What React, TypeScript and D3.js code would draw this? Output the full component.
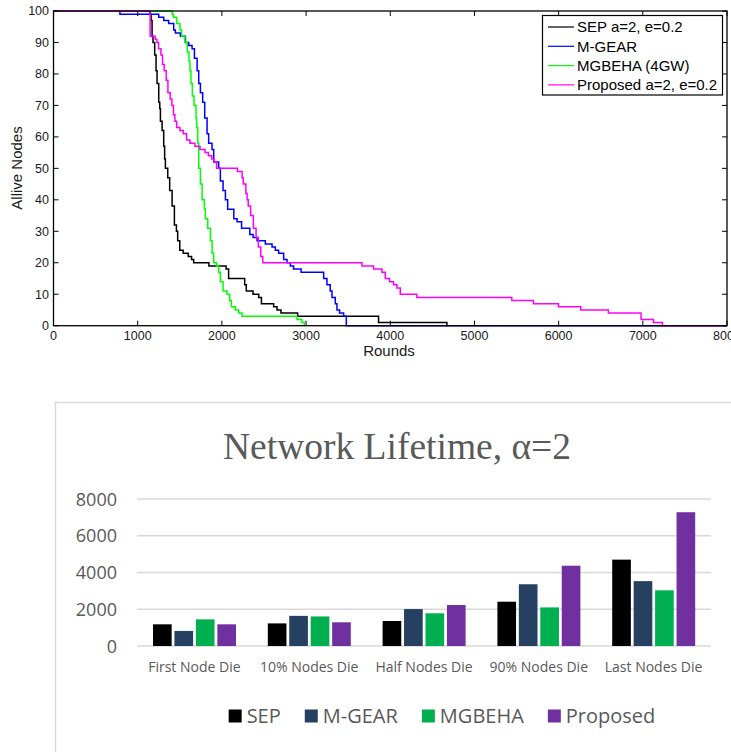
import React, { useEffect, useRef } from 'react';
import * as d3 from 'd3';

type Pt = [number, number];

// ---------- Top chart: Alive nodes vs rounds ----------
const curveNames = ['SEP a=2, e=0.2', 'M-GEAR', 'MGBEHA (4GW)', 'Proposed a=2, e=0.2'];
const curveColors = ['#000000', '#0000ff', '#00ff00', '#ff00ff'];

const sepCurve: Pt[] = [
  [0, 100], [1143, 99], [1159, 97], [1171, 92], [1182, 90], [1202, 86], [1218, 81], [1230, 77],
  [1250, 71], [1262, 69], [1270, 65], [1290, 62], [1309, 57], [1320, 53], [1329, 50], [1357, 47],
  [1380, 43], [1409, 38], [1436, 32], [1460, 30], [1475, 27], [1500, 24], [1540, 23], [1600, 22],
  [1640, 21], [1665, 20], [1846, 19], [2050, 18], [2080, 15], [2271, 13], [2290, 11], [2370, 10],
  [2437, 9], [2470, 7], [2615, 6], [2655, 5], [2702, 4], [2900, 3], [3861, 1], [4673, 0], [4680, 0],
];
const mgearCurve: Pt[] = [
  [0, 100], [789, 99], [1250, 98], [1309, 97], [1368, 96], [1428, 94], [1448, 93], [1507, 92],
  [1567, 90], [1606, 89], [1646, 88], [1674, 85], [1706, 81], [1725, 77], [1745, 74], [1772, 71],
  [1796, 66], [1824, 61], [1843, 58], [1883, 56], [1903, 52], [1962, 50], [1982, 46], [2014, 43],
  [2042, 40], [2069, 37], [2142, 34], [2181, 33], [2234, 31], [2332, 29], [2371, 28], [2418, 27],
  [2516, 26], [2596, 25], [2635, 24], [2674, 23], [2734, 21], [2774, 20], [2813, 19], [2852, 18],
  [2941, 17], [3209, 15], [3248, 13], [3287, 11], [3308, 9], [3347, 7], [3367, 5], [3398, 4],
  [3446, 3], [3478, 0], [8000, 0],
];
const mgbehaCurve: Pt[] = [
  [0, 100], [1409, 99], [1423, 98], [1463, 96], [1502, 94], [1522, 92], [1561, 90], [1589, 87],
  [1609, 84], [1621, 81], [1633, 77], [1649, 73], [1669, 70], [1693, 66], [1700, 63], [1713, 58],
  [1725, 50], [1745, 45], [1765, 40], [1792, 37], [1804, 34], [1832, 31], [1864, 27], [1884, 23],
  [1903, 20], [1935, 19], [1962, 17], [1982, 14], [2014, 11], [2061, 10], [2093, 8], [2113, 6],
  [2160, 5], [2200, 4], [2240, 3], [2892, 2], [2950, 1], [2979, 0], [2990, 0],
];
const proposedCurve: Pt[] = [
  [0, 100], [1148, 92], [1208, 91], [1228, 90], [1248, 88], [1276, 86], [1295, 83], [1315, 81],
  [1339, 78], [1359, 74], [1386, 72], [1406, 70], [1425, 67], [1442, 65], [1463, 63], [1502, 62],
  [1541, 61], [1581, 59], [1621, 58], [1680, 57], [1740, 56], [1800, 55], [1839, 54], [1879, 53],
  [1906, 52], [1938, 50], [2185, 49], [2241, 47], [2254, 45], [2285, 42], [2300, 40], [2313, 38],
  [2341, 35], [2374, 31], [2406, 28], [2433, 25], [2462, 22], [2486, 20], [3664, 19], [3802, 18],
  [3901, 17], [3941, 15], [3992, 14], [4039, 13], [4079, 12], [4119, 10], [4316, 9], [5444, 8],
  [5701, 7], [5998, 6], [6263, 5], [6591, 4], [6979, 2], [7126, 1], [7233, 0], [8000, 0],
];
const curves = [sepCurve, mgearCurve, mgbehaCurve, proposedCurve];
const roundTicks = [0, 1000, 2000, 3000, 4000, 5000, 6000, 7000, 8000];
const nodeTicks = [0, 10, 20, 30, 40, 50, 60, 70, 80, 90, 100];

// ---------- Bottom chart: Network lifetime ----------
const barTitle = 'Network Lifetime, \u03b1=2';
const barCategories = ['First Node Die', '10% Nodes Die', 'Half Nodes Die', '90% Nodes Die', 'Last Nodes Die'];
const barSeriesNames = ['SEP', 'M-GEAR', 'MGBEHA', 'Proposed'];
const barColors = ['#000000', '#254061', '#00b050', '#7030a0'];
const sepBars = [1180, 1230, 1360, 2410, 4700];
const mgearBars = [820, 1640, 2010, 3360, 3530];
const mgbehaBars = [1450, 1610, 1780, 2100, 3030];
const proposedBars = [1180, 1290, 2230, 4370, 7280];
const barValues = [sepBars, mgearBars, mgbehaBars, proposedBars];
const lifetimeTicks = [0, 2000, 4000, 6000, 8000];

export default function App() {
  const ref = useRef<SVGSVGElement>(null);

  useEffect(() => {
    const svg = d3.select(ref.current);
    svg.selectAll('*').remove();

    // ===== Top chart =====
    const top = svg.append('g');
    const x = d3.scaleLinear().domain([0, 8000]).range([53.5, 727]);
    const y = d3.scaleLinear().domain([0, 100]).range([325.7, 11]);
    const sans = 'Liberation Sans, Arial, sans-serif';

    const line = d3.line<Pt>().x((d) => x(d[0])).y((d) => y(d[1])).curve(d3.curveStepAfter);
    curves.forEach((c, i) => {
      top.append('path').attr('d', line(c)).attr('fill', 'none')
        .attr('stroke', curveColors[i]).attr('stroke-width', 1.5);
    });

    // frame
    top.append('rect').attr('x', x(0)).attr('y', y(100))
      .attr('width', x(8000) - x(0)).attr('height', y(0) - y(100))
      .attr('fill', 'none').attr('stroke', '#000').attr('stroke-width', 1.3);

    roundTicks.forEach((t) => {
      top.append('line').attr('x1', x(t)).attr('x2', x(t)).attr('y1', y(0)).attr('y2', y(0) - 5)
        .attr('stroke', '#000').attr('stroke-width', 1);
      top.append('line').attr('x1', x(t)).attr('x2', x(t)).attr('y1', y(100)).attr('y2', y(100) + 5)
        .attr('stroke', '#000').attr('stroke-width', 1);
      top.append('text').attr('x', x(t)).attr('y', 340).attr('text-anchor', 'middle')
        .attr('font-family', sans).attr('font-size', 12.5).attr('fill', '#1a1a1a').text(t);
    });
    nodeTicks.forEach((t) => {
      top.append('line').attr('x1', x(0)).attr('x2', x(0) + 5).attr('y1', y(t)).attr('y2', y(t))
        .attr('stroke', '#000').attr('stroke-width', 1);
      top.append('line').attr('x1', x(8000)).attr('x2', x(8000) - 5).attr('y1', y(t)).attr('y2', y(t))
        .attr('stroke', '#000').attr('stroke-width', 1);
      top.append('text').attr('x', 49).attr('y', y(t) + 4.3).attr('text-anchor', 'end')
        .attr('font-family', sans).attr('font-size', 12.5).attr('fill', '#1a1a1a').text(t);
    });

    top.append('text').attr('x', 389).attr('y', 356).attr('text-anchor', 'middle')
      .attr('font-family', sans).attr('font-size', 15).attr('fill', '#1a1a1a').text('Rounds');
    top.append('text').attr('transform', 'translate(22,168) rotate(-90)').attr('text-anchor', 'middle')
      .attr('font-family', sans).attr('font-size', 15).attr('fill', '#1a1a1a').text('Allive Nodes');

    // legend
    const lg = top.append('g');
    lg.append('rect').attr('x', 542.5).attr('y', 15.5).attr('width', 180).attr('height', 79.5)
      .attr('fill', '#fff').attr('stroke', '#000').attr('stroke-width', 1.2);
    curveNames.forEach((n, i) => {
      const ry = 27 + i * 19.3;
      lg.append('line').attr('x1', 548).attr('x2', 574).attr('y1', ry).attr('y2', ry)
        .attr('stroke', curveColors[i]).attr('stroke-width', 1.2);
      lg.append('text').attr('x', 577).attr('y', ry + 5.3).attr('font-family', sans)
        .attr('font-size', 15).attr('fill', '#000').text(n);
    });

    // ===== Bottom chart =====
    const bot = svg.append('g');
    const font2 = 'Open Sans, Noto Sans, sans-serif';
    bot.append('rect').attr('x', 55.5).attr('y', 402.5).attr('width', 700).attr('height', 400)
      .attr('fill', '#fff').attr('stroke', '#d9d9d9').attr('stroke-width', 1.5);
    bot.append('text').attr('x', 397).attr('y', 459).attr('text-anchor', 'middle')
      .attr('font-family', 'Liberation Serif, Times New Roman, serif').attr('font-size', 37.5)
      .attr('fill', '#595959').text(barTitle);

    const x0 = d3.scaleBand<string>().domain(barCategories).range([137, 711]).padding(0);
    const x1 = d3.scaleBand<string>().domain(barSeriesNames).range([16, 99]).paddingInner(0.13);
    const yb = d3.scaleLinear().domain([0, 8000]).range([646, 499]);

    lifetimeTicks.forEach((t) => {
      bot.append('line').attr('x1', 137).attr('x2', 711).attr('y1', yb(t)).attr('y2', yb(t))
        .attr('stroke', '#d9d9d9').attr('stroke-width', 1.3);
      bot.append('text').attr('x', 117).attr('y', yb(t) + 6.5).attr('text-anchor', 'end')
        .attr('font-family', font2).attr('font-size', 18).attr('fill', '#595959').text(t);
    });

    barCategories.forEach((c, ci) => {
      barSeriesNames.forEach((s, si) => {
        const v = barValues[si][ci];
        bot.append('rect').attr('x', (x0(c) ?? 0) + (x1(s) ?? 0)).attr('y', yb(v))
          .attr('width', x1.bandwidth()).attr('height', yb(0) - yb(v)).attr('fill', barColors[si]);
      });
      bot.append('text').attr('x', (x0(c) ?? 0) + x0.bandwidth() / 2).attr('y', 672)
        .attr('text-anchor', 'middle').attr('font-family', font2).attr('font-size', 14)
        .attr('fill', '#595959').text(c);
    });

    // legend (sequential layout, centered)
    const leg = bot.append('g');
    const items: { g: any; w: number }[] = [];
    barSeriesNames.forEach((s, i) => {
      const g = leg.append('g');
      g.append('rect').attr('x', 0).attr('y', 709.5).attr('width', 13).attr('height', 13).attr('fill', barColors[i]);
      const t = g.append('text').attr('x', 18).attr('y', 723).attr('font-family', font2)
        .attr('font-size', 20).attr('fill', '#595959').text(s);
      const w = 18 + ((t.node() as SVGTextElement).getComputedTextLength());
      items.push({ g, w });
    });
    const gap = 24;
    const total = items.reduce((a, b) => a + b.w, 0) + gap * (items.length - 1);
    let cx = 442 - total / 2;
    items.forEach((it) => {
      it.g.attr('transform', `translate(${cx},0)`);
      cx += it.w + gap;
    });
  }, []);

  return (
    <svg ref={ref} width={731} height={752}
      style={{ position: 'absolute', left: 0, top: 0, display: 'block', background: '#fff' }} />
  );
}
